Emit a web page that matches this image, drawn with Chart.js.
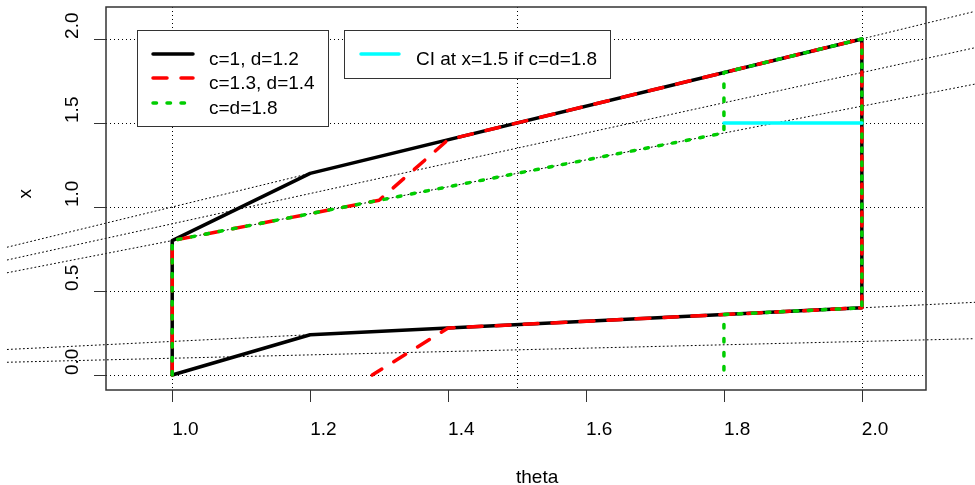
<!DOCTYPE html>
<html>
<head>
<meta charset="utf-8">
<title>Confidence belt</title>
<script src="https://cdn.jsdelivr.net/npm/chart.js@4/dist/chart.umd.min.js"></script>
<style>
  html, body { margin: 0; padding: 0; background: #fff; }
  canvas { display: block; }
</style>
</head>
<body>
<canvas id="beltChart" width="975" height="485"></canvas>
<script>
// **Belt outlines (theta, x)**
const blackTheta = [1.0, 1.0, 1.2, 2.0, 2.0, 1.2, 1.0];
const blackX     = [0.0, 0.8, 1.2, 2.0, 0.4, 0.24, 0.0];

const redTheta = [1.0, 1.0, 1.3, 1.4, 2.0, 2.0, 1.4, 1.29];
const redX     = [0.0, 0.8, 1.04, 1.4, 2.0, 0.4, 0.28, 0.0];

const greenTheta = [1.0, 1.0, 1.8, 1.8, 2.0, 2.0, 1.8, 1.8];
const greenX     = [0.0, 0.8, 1.44, 1.8, 2.0, 0.4, 0.36, 0.0];

const ciTheta = [1.8, 2.0];
const ciX     = [1.5, 1.5];

// **Reference lines x = k * theta (drawn across the whole figure)**
const refSlopes = [1.0, 0.9, 0.8, 0.2, 0.1];
const refThetaEnds = [0.761, 2.164];

// **Grid, ticks and labels**
const gridTheta = [1.0, 1.5, 2.0];
const gridX = [0.0, 0.5, 1.0, 1.5, 2.0];
const xTicks = [1.0, 1.2, 1.4, 1.6, 1.8, 2.0];
const xTickLabels = ["1.0", "1.2", "1.4", "1.6", "1.8", "2.0"];
const yTicks = [0.0, 0.5, 1.0, 1.5, 2.0];
const yTickLabels = ["0.0", "0.5", "1.0", "1.5", "2.0"];

const legendLabels = ["c=1, d=1.2", "c=1.3, d=1.4", "c=d=1.8"];
const ciLabel = "CI at x=1.5 if c=d=1.8";

const FONT = '19px "Liberation Sans", Arial, sans-serif';
const GREEN = "#00cd00";
const LINE_W = 3.5;
const DASHED = [14, 14];
const DOTTED = [3.5, 10.5];

function toPoints(thetas, xs) {
    return thetas.map((t, i) => ({ x: t, y: xs[i] }));
}

function refDataset(k) {
    return {
        data: toPoints(refThetaEnds, refThetaEnds.map(t => k * t)),
        borderColor: "#000",
        borderWidth: 1,
        borderDash: [1, 3],
        clip: false,
        order: 10
    };
}

// **Grid, axes, labels and legends drawn R-style on top of the library scales**
const rPlot = {
    id: "rPlot",
    beforeDatasetsDraw(chart) {
        let ctx = chart.ctx;
        let a = chart.chartArea;
        let xs = chart.scales.x, ys = chart.scales.y;
        ctx.save();
        ctx.beginPath();
        ctx.rect(a.left, a.top, a.right - a.left, a.bottom - a.top);
        ctx.clip();
        ctx.strokeStyle = "#000";
        ctx.lineWidth = 1;
        ctx.setLineDash([1, 3]);
        gridTheta.forEach(v => {
            let px = Math.round(xs.getPixelForValue(v)) + 0.5;
            ctx.beginPath();
            ctx.moveTo(px, a.top);
            ctx.lineTo(px, a.bottom);
            ctx.stroke();
        });
        gridX.forEach(v => {
            let py = Math.round(ys.getPixelForValue(v)) + 0.5;
            ctx.beginPath();
            ctx.moveTo(a.left, py);
            ctx.lineTo(a.right, py);
            ctx.stroke();
        });
        ctx.restore();
    },
    afterDatasetsDraw(chart) {
        let ctx = chart.ctx;
        let a = chart.chartArea;
        let xs = chart.scales.x, ys = chart.scales.y;
        ctx.save();

        // frame
        ctx.strokeStyle = "#333";
        ctx.lineWidth = 1.5;
        ctx.setLineDash([]);
        ctx.strokeRect(a.left, a.top, a.right - a.left, a.bottom - a.top);

        // ticks
        ctx.lineWidth = 1;
        ctx.beginPath();
        xTicks.forEach(v => {
            let px = Math.round(xs.getPixelForValue(v)) + 0.5;
            ctx.moveTo(px, a.bottom);
            ctx.lineTo(px, a.bottom + 12);
        });
        yTicks.forEach(v => {
            let py = Math.round(ys.getPixelForValue(v)) + 0.5;
            ctx.moveTo(a.left, py);
            ctx.lineTo(a.left - 12, py);
        });
        ctx.stroke();

        // tick labels (left-justified at the tick, as in the picture)
        ctx.fillStyle = "#000";
        ctx.font = FONT;
        ctx.textAlign = "left";
        ctx.textBaseline = "alphabetic";
        xTicks.forEach((v, i) => {
            ctx.fillText(xTickLabels[i], xs.getPixelForValue(v), 435);
        });
        yTicks.forEach((v, i) => {
            ctx.save();
            ctx.translate(78, ys.getPixelForValue(v));
            ctx.rotate(-Math.PI / 2);
            ctx.fillText(yTickLabels[i], 0, 0);
            ctx.restore();
        });

        // axis titles
        let midX = (a.left + a.right) / 2;
        let midY = (a.top + a.bottom) / 2;
        ctx.fillText("theta", midX, 483);
        ctx.save();
        ctx.translate(31, midY);
        ctx.rotate(-Math.PI / 2);
        ctx.fillText("x", 0, 0);
        ctx.restore();

        // legend 1
        ctx.fillStyle = "#fff";
        ctx.fillRect(137.5, 30.5, 191, 96);
        ctx.strokeStyle = "#333";
        ctx.strokeRect(137.5, 30.5, 191, 96);
        let styles = [
            { color: "#000", dash: [] },
            { color: "#f00", dash: DASHED },
            { color: GREEN, dash: DOTTED }
        ];
        let rows = [54, 78, 103];
        styles.forEach((s, i) => {
            ctx.strokeStyle = s.color;
            ctx.lineWidth = LINE_W;
            ctx.lineCap = "round";
            ctx.setLineDash(s.dash);
            ctx.beginPath();
            ctx.moveTo(153, rows[i]);
            ctx.lineTo(193, rows[i]);
            ctx.stroke();
            ctx.fillStyle = "#000";
            ctx.fillText(legendLabels[i], 209, rows[i] + 10.5);
        });

        // legend 2
        ctx.setLineDash([]);
        ctx.lineWidth = 1;
        ctx.fillStyle = "#fff";
        ctx.fillRect(344.5, 30.5, 266, 48);
        ctx.strokeStyle = "#333";
        ctx.strokeRect(344.5, 30.5, 266, 48);
        ctx.strokeStyle = "#00ffff";
        ctx.lineWidth = LINE_W;
        ctx.beginPath();
        ctx.moveTo(361, 54);
        ctx.lineTo(399, 54);
        ctx.stroke();
        ctx.fillStyle = "#000";
        ctx.fillText(ciLabel, 416, 64.5);

        ctx.restore();
    }
};

// **Build the chart**
function drawChart() {
    let ctx = document.getElementById("beltChart").getContext("2d");
    let datasets = refSlopes.map(refDataset);
    datasets.push(
        { data: toPoints(blackTheta, blackX), borderColor: "#000", borderWidth: LINE_W, order: 4 },
        { data: toPoints(redTheta, redX), borderColor: "#f00", borderWidth: LINE_W, borderDash: DASHED, order: 3 },
        { data: toPoints(greenTheta, greenX), borderColor: GREEN, borderWidth: LINE_W, borderDash: DOTTED, order: 2 },
        { data: toPoints(ciTheta, ciX), borderColor: "#00ffff", borderWidth: LINE_W, order: 1 }
    );

    new Chart(ctx, {
        type: "scatter",
        data: { datasets: datasets },
        options: {
            responsive: false,
            animation: false,
            devicePixelRatio: 1,
            showLine: true,
            layout: { padding: { left: 106, right: 49, top: 7, bottom: 95 } },
            elements: {
                point: { radius: 0 },
                line: { tension: 0, borderCapStyle: "round", borderJoinStyle: "round", fill: false }
            },
            scales: {
                x: { type: "linear", min: 0.904, max: 2.093, display: false },
                y: { type: "linear", min: -0.089, max: 2.19, display: false }
            },
            plugins: { legend: { display: false }, tooltip: { enabled: false } }
        },
        plugins: [rPlot]
    });
}

drawChart();
</script>
</body>
</html>
